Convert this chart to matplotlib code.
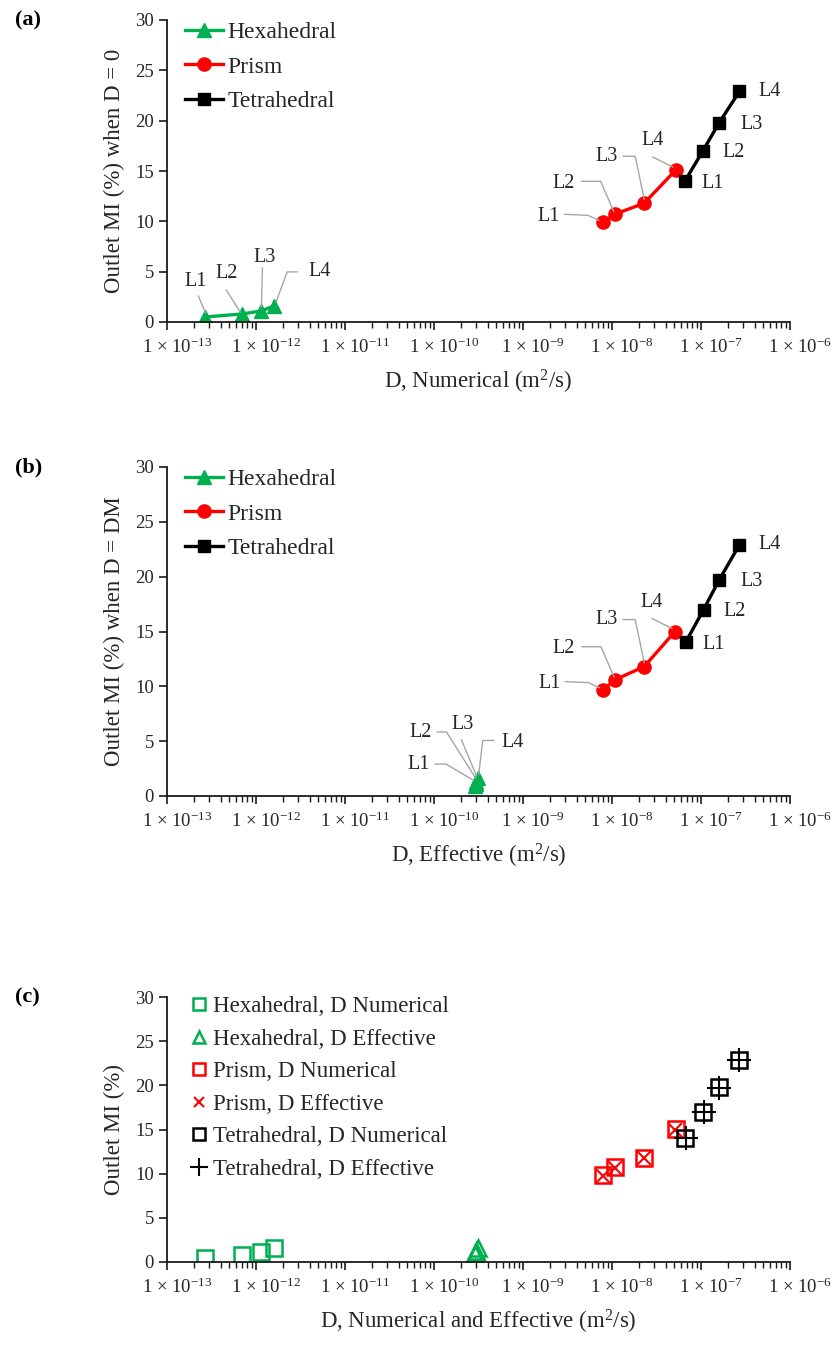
import numpy as np
import matplotlib
matplotlib.use("Agg")
import matplotlib.pyplot as plt
import matplotlib.transforms as mtransforms
from matplotlib.lines import Line2D
from matplotlib.ticker import LogLocator, FuncFormatter, NullFormatter, MultipleLocator

plt.rcParams['font.family'] = ['Liberation Serif', 'DejaVu Serif']
plt.rcParams['mathtext.fontset'] = 'custom'
plt.rcParams['mathtext.rm'] = 'Liberation Serif'
plt.rcParams['mathtext.it'] = 'Liberation Serif:italic'
plt.rcParams['mathtext.bf'] = 'Liberation Serif:bold'

# mesh levels
levels = ["L1", "L2", "L3", "L4"]

# D numerical (m2/s) and outlet MI (%) when D = 0
hex_d_num = [2.7e-13, 7.0e-13, 1.15e-12, 1.6e-12]
hex_mi_num = [0.5, 0.8, 1.1, 1.6]
prism_d_num = [7.9e-9, 1.07e-8, 2.3e-8, 5.2e-8]
prism_mi_num = [9.9, 10.7, 11.8, 15.1]
tet_d_num = [6.6e-8, 1.05e-7, 1.6e-7, 2.7e-7]
tet_mi_num = [14.0, 17.0, 19.8, 22.9]

# D effective (m2/s) and outlet MI (%) when D = DM
hex_d_eff = [2.9e-10, 3.0e-10, 3.0e-10, 3.1e-10]
hex_mi_eff = [0.9, 1.1, 1.3, 1.6]
prism_d_eff = [8.0e-9, 1.08e-8, 2.3e-8, 5.1e-8]
prism_mi_eff = [9.7, 10.6, 11.8, 15.0]
tet_d_eff = [6.7e-8, 1.07e-7, 1.6e-7, 2.7e-7]
tet_mi_eff = [14.0, 17.0, 19.7, 22.9]

GREEN = "#00B050"
RED = "#FF0000"
BLACK = "#000000"
TXT = "#262626"
LEAD = "#a6a6a6"

W, H = 835, 1347
fig = plt.figure(figsize=(W / 100, H / 100), dpi=100)


def make_axes(top, bottom, left=167, right=790):
    return fig.add_axes([left / W, 1 - bottom / H, (right - left) / W, (bottom - top) / H])


def style_axes(ax, xlabel, ylabel):
    ax.set_xscale("log")
    ax.set_xlim(1e-13, 1e-6)
    ax.set_ylim(0, 30)
    ax.yaxis.set_major_locator(MultipleLocator(5))
    ax.xaxis.set_major_locator(LogLocator(base=10, numticks=20))
    ax.xaxis.set_minor_locator(LogLocator(base=10, subs=np.arange(2, 10), numticks=20))
    ax.xaxis.set_minor_formatter(NullFormatter())
    ax.xaxis.set_major_formatter(FuncFormatter(
        lambda v, p: "1 × 10$^{%d}$" % int(round(np.log10(v)))))
    for s in ["top", "right"]:
        ax.spines[s].set_visible(False)
    for s in ["left", "bottom"]:
        ax.spines[s].set_linewidth(1.3)
        ax.spines[s].set_color("#1a1a1a")
    ax.tick_params(axis="both", which="major", direction="out", length=6, width=1.2,
                   labelsize=13.5, labelcolor=TXT, color="#1a1a1a")
    ax.tick_params(axis="x", which="minor", direction="out", length=4, width=1.0, color="#1a1a1a")
    ax.tick_params(axis="x", which="major", pad=5)
    ax.set_xlabel(xlabel, fontsize=16.5, color=TXT, labelpad=8)
    ax.set_ylabel(ylabel, fontsize=16.5, color=TXT, labelpad=7)


def callout(ax, x, y, text, dxy, path=None):
    ax.annotate(text, xy=(x, y), xytext=dxy, textcoords="offset pixels",
                ha="center", va="center", fontsize=14.5, color=TXT)
    if path:
        tr = mtransforms.ScaledTranslation(x, y, ax.transData)
        fig.add_artist(Line2D([p[0] for p in path], [p[1] for p in path],
                              transform=tr, color=LEAD, lw=1.0))


# label offsets in pixels (text centre, leader path) relative to each point
hex_a_lab = [((-10, 35), [(-7, 21), (0, 4)]),
             ((-16, 40), [(-16, 24), (-2, 2)]),
             ((3, 53), [(1, 43), (0, 4)]),
             ((45, 34), [(23, 34), (13, 34), (2, 4)])]
prism_lab = [((-54, 6), [(-38, 8), (-15, 7), (-4, 2)]),
             ((-51, 31), [(-33, 33), (-14, 33), (-1, 3)]),
             ((-38, 47), [(-21, 47), (-9, 47), (0, 4)]),
             ((-23, 29), [(-23, 13), (-3, 3)])]
tet_lab = [((28, -2), None), ((31, -2), None), ((32, -2), None), ((30, 0), None)]
hex_b_lab = [((-57, 22), [(-40, 22), (-29, 22), (-2, 6)]),
             ((-56, 51), [(-39, 52), (-30, 52), (-1, 6)]),
             ((-14, 57), [(-15, 42), (0, 6)]),
             ((35, 36), [(16, 38), (5, 38), (1, 4)])]

leg_kw = dict(loc="upper left", frameon=False, fontsize=17, handlelength=1.6,
              handletextpad=0.2, labelspacing=0.55, labelcolor=TXT)

# ---------- panel (a) ----------
ax1 = make_axes(20, 322)
ax1.plot(hex_d_num, hex_mi_num, color=GREEN, lw=2.4, marker="^", ms=10, label="Hexahedral")
ax1.plot(prism_d_num, prism_mi_num, color=RED, lw=2.4, marker="o", ms=9.5, label="Prism")
ax1.plot(tet_d_num, tet_mi_num, color=BLACK, lw=2.4, marker="s", ms=9, label="Tetrahedral")
style_axes(ax1, "D, Numerical (m$^2$/s)", "Outlet MI (%) when D = 0")
for i, lab in enumerate(levels):
    callout(ax1, hex_d_num[i], hex_mi_num[i], lab, *hex_a_lab[i])
    callout(ax1, prism_d_num[i], prism_mi_num[i], lab, *prism_lab[i])
    callout(ax1, tet_d_num[i], tet_mi_num[i], lab, *tet_lab[i])
ax1.legend(bbox_to_anchor=(-0.005, 1.065), **leg_kw)

# ---------- panel (b) ----------
ax2 = make_axes(467, 796)
ax2.plot(hex_d_eff, hex_mi_eff, color=GREEN, lw=2.4, marker="^", ms=10, label="Hexahedral")
ax2.plot(prism_d_eff, prism_mi_eff, color=RED, lw=2.4, marker="o", ms=9.5, label="Prism")
ax2.plot(tet_d_eff, tet_mi_eff, color=BLACK, lw=2.4, marker="s", ms=9, label="Tetrahedral")
style_axes(ax2, "D, Effective (m$^2$/s)", "Outlet MI (%) when D = DM")
for i, lab in enumerate(levels):
    callout(ax2, hex_d_eff[i], hex_mi_eff[i], lab, *hex_b_lab[i])
    callout(ax2, prism_d_eff[i], prism_mi_eff[i], lab, *prism_lab[i])
    callout(ax2, tet_d_eff[i], tet_mi_eff[i], lab, *tet_lab[i])
ax2.legend(bbox_to_anchor=(-0.005, 1.06), **leg_kw)

# ---------- panel (c) ----------
ax3 = make_axes(997, 1262)
ax3.plot(hex_d_num, hex_mi_num, ls="none", marker="s", ms=12, mfc="none", mec=GREEN, mew=1.8,
         label="Hexahedral, D Numerical")
ax3.plot(hex_d_eff, hex_mi_eff, ls="none", marker="^", ms=12, mfc="none", mec=GREEN, mew=1.8,
         label="Hexahedral, D Effective")
ax3.plot(prism_d_num, prism_mi_num, ls="none", marker="s", ms=12, mfc="none", mec=RED, mew=1.8,
         label="Prism, D Numerical")
ax3.plot(prism_d_eff, prism_mi_eff, ls="none", marker="x", ms=9.5, mec=RED, mew=1.5,
         label="Prism, D Effective")
ax3.plot(tet_d_num, tet_mi_num, ls="none", marker="s", ms=12, mfc="none", mec=BLACK, mew=1.8,
         label="Tetrahedral, D Numerical")
ax3.plot(tet_d_eff, tet_mi_eff, ls="none", marker="+", ms=17, mec=BLACK, mew=1.5,
         label="Tetrahedral, D Effective")
style_axes(ax3, "D, Numerical and Effective (m$^2$/s)", "Outlet MI (%)")
ax3.legend(loc="upper left", bbox_to_anchor=(0.006, 1.08), frameon=False, fontsize=16.5,
           handlelength=0.7, handletextpad=0.25, labelspacing=0.5, labelcolor=TXT,
           markerscale=0.75)

for y, t in [(20, "(a)"), (467, "(b)"), (997, "(c)")]:
    fig.text(15 / W, 1 - y / H, t, fontsize=16, fontweight="bold", color=BLACK,
             ha="left", va="center")

# Excel-style: x tick labels sit a little right of their ticks
fig.canvas.draw()
shift = mtransforms.ScaledTranslation(10 / 100, 0, fig.dpi_scale_trans)
for ax in (ax1, ax2, ax3):
    for tick in ax.xaxis.get_major_ticks():
        tick.label1.set_transform(tick.label1.get_transform() + shift)

fig.savefig("out.png", dpi=100)
